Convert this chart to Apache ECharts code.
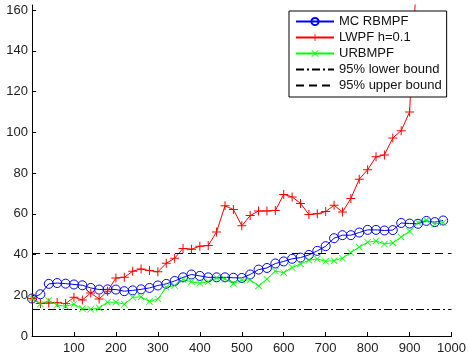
<!DOCTYPE html>
<html>
<head>
<meta charset="utf-8">
<script src="https://cdn.jsdelivr.net/npm/echarts@6/dist/echarts.min.js"></script>
<style>
  html, body { margin: 0; padding: 0; background: #fff; }
  #chart { width: 469px; height: 360px; }
</style>
</head>
<body>
<div id="chart"></div>
<script>
// x positions (every 20 steps)
var xs = [];
for (var i = 0; i < 50; i++) xs.push(i * 20);

var mcRbmpf = [18.4, 20.5, 25.6, 26.0, 25.7, 25.3, 24.9, 23.6, 22.8, 22.9,
               22.8, 22.0, 22.4, 22.9, 23.6, 24.8, 25.6, 27.0, 28.8, 30.2,
               29.5, 28.8, 28.8, 28.8, 28.6, 28.5, 30.2, 32.6, 33.4, 35.6,
               36.6, 37.9, 38.5, 39.8, 41.8, 44.1, 48.0, 49.5, 49.5, 50.8,
               52.1, 52.1, 51.8, 52.0, 55.5, 55.2, 55.1, 56.5, 55.9, 56.7];

var lwpf = [18.4, 15.9, 16.2, 16.4, 15.9, 19.0, 17.7, 21.1, 18.2, 22.0,
            28.5, 28.8, 31.8, 32.9, 32.1, 31.5, 35.7, 38.2, 43.0, 42.6,
            44.1, 44.4, 51.1, 63.9, 62.1, 54.1, 59.1, 61.4, 61.4, 61.6,
            69.5, 68.3, 65.1, 59.7, 60.0, 61.1, 64.2, 60.9, 67.5, 77.0,
            81.6, 88.0, 88.9, 97.2, 100.8, 110.0, 190.0];

var urbmpf = [18.4, 15.7, 17.4, 15.2, 14.6, 15.6, 13.4, 13.1, 13.8, 16.6,
              16.6, 15.6, 19.0, 19.2, 16.9, 18.2, 23.9, 24.8, 27.7, 26.6,
              25.9, 26.6, 28.5, 28.0, 25.7, 27.4, 27.5, 24.6, 27.9, 31.9,
              31.1, 33.6, 35.4, 37.2, 37.8, 36.7, 37.0, 38.2, 41.0, 43.7,
              46.0, 46.7, 45.2, 45.7, 48.6, 51.4, 55.7, 56.9, 55.0, 55.7];

var lowerBound = 13.0;
var upperBound = 40.5;

var xTickLabels = [100, 200, 300, 400, 500, 600, 700, 800, 900, 1000];
var yTickLabels = [0, 20, 40, 60, 80, 100, 120, 140, 160];

function pairs(vals) {
  return vals.map(function (v, i) { return [xs[i], v]; });
}

var plusSym = 'path://M4,0h1v9h-1z M0,4h9v1h-9z';
var crossSym = 'path://M0.7,0L9,8.3L8.3,9L0,0.7z M8.3,0L9,0.7L0.7,9L0,8.3z';
var font = 'Liberation Sans';

var chart = echarts.init(document.getElementById('chart'));
var option = {
  animation: false,
  textStyle: { fontFamily: font },
  grid: { left: 32, right: 17, top: 5, bottom: 24 },
  legend: {
    left: 289, top: 11,
    orient: 'vertical',
    backgroundColor: '#fff',
    borderColor: '#000',
    borderWidth: 1,
    borderRadius: 0,
    padding: [4, 5, 5, 6],
    itemWidth: 38, itemHeight: 9, itemGap: 3,
    textStyle: { fontFamily: font, fontSize: 13, color: '#111' },
    data: ['MC RBMPF', 'LWPF h=0.1', 'URBMPF', '95% lower bound', '95% upper bound']
  },
  xAxis: {
    type: 'value', min: 0, max: 1000, interval: 100,
    axisLine: { lineStyle: { color: '#000', width: 1 } },
    axisTick: { inside: true, length: 4, lineStyle: { color: '#000' }, customValues: xTickLabels },
    axisLabel: {
      fontSize: 13, color: '#222', fontFamily: font, margin: 6, customValues: xTickLabels,
      formatter: function (v) { return String(v); }
    },
    splitLine: { show: false }
  },
  yAxis: {
    type: 'value', min: 0, max: 162.5, interval: 20,
    axisLine: { show: true, lineStyle: { color: '#000', width: 1 } },
    axisTick: { show: true, inside: true, length: 4, lineStyle: { color: '#000' }, customValues: yTickLabels },
    axisLabel: { fontSize: 13, color: '#222', fontFamily: font, margin: 4, customValues: yTickLabels },
    splitLine: { show: false }
  },
  series: [
    {
      name: 'MC RBMPF', type: 'line', data: pairs(mcRbmpf),
      symbol: 'circle', symbolSize: 9, showAllSymbol: true,
      lineStyle: { color: '#0000ff', width: 1 },
      itemStyle: { color: 'rgba(0,0,0,0)', borderColor: '#0000ff', borderWidth: 1 }
    },
    {
      name: 'LWPF h=0.1', type: 'line', data: pairs(lwpf),
      symbol: plusSym, symbolSize: 9, showAllSymbol: true,
      lineStyle: { color: '#ff0000', width: 1 },
      itemStyle: { color: '#ff0000', borderWidth: 0 }
    },
    {
      name: 'URBMPF', type: 'line', data: pairs(urbmpf),
      symbol: crossSym, symbolSize: 7, showAllSymbol: true,
      lineStyle: { color: '#00ff00', width: 1 },
      itemStyle: { color: '#00ff00', borderWidth: 0 }
    },
    {
      name: '95% lower bound', type: 'line', data: [[0, lowerBound], [1000, lowerBound]],
      symbol: 'none',
      lineStyle: { color: '#000', width: 1, type: [8, 3, 2, 3] },
      itemStyle: { color: 'rgba(0,0,0,0)', borderWidth: 0 }
    },
    {
      name: '95% upper bound', type: 'line', data: [[0, upperBound], [1000, upperBound]],
      symbol: 'none',
      lineStyle: { color: '#000', width: 1, type: [8, 5] },
      itemStyle: { color: 'rgba(0,0,0,0)', borderWidth: 0 }
    }
  ]
};
chart.setOption(option);
</script>
</body>
</html>
